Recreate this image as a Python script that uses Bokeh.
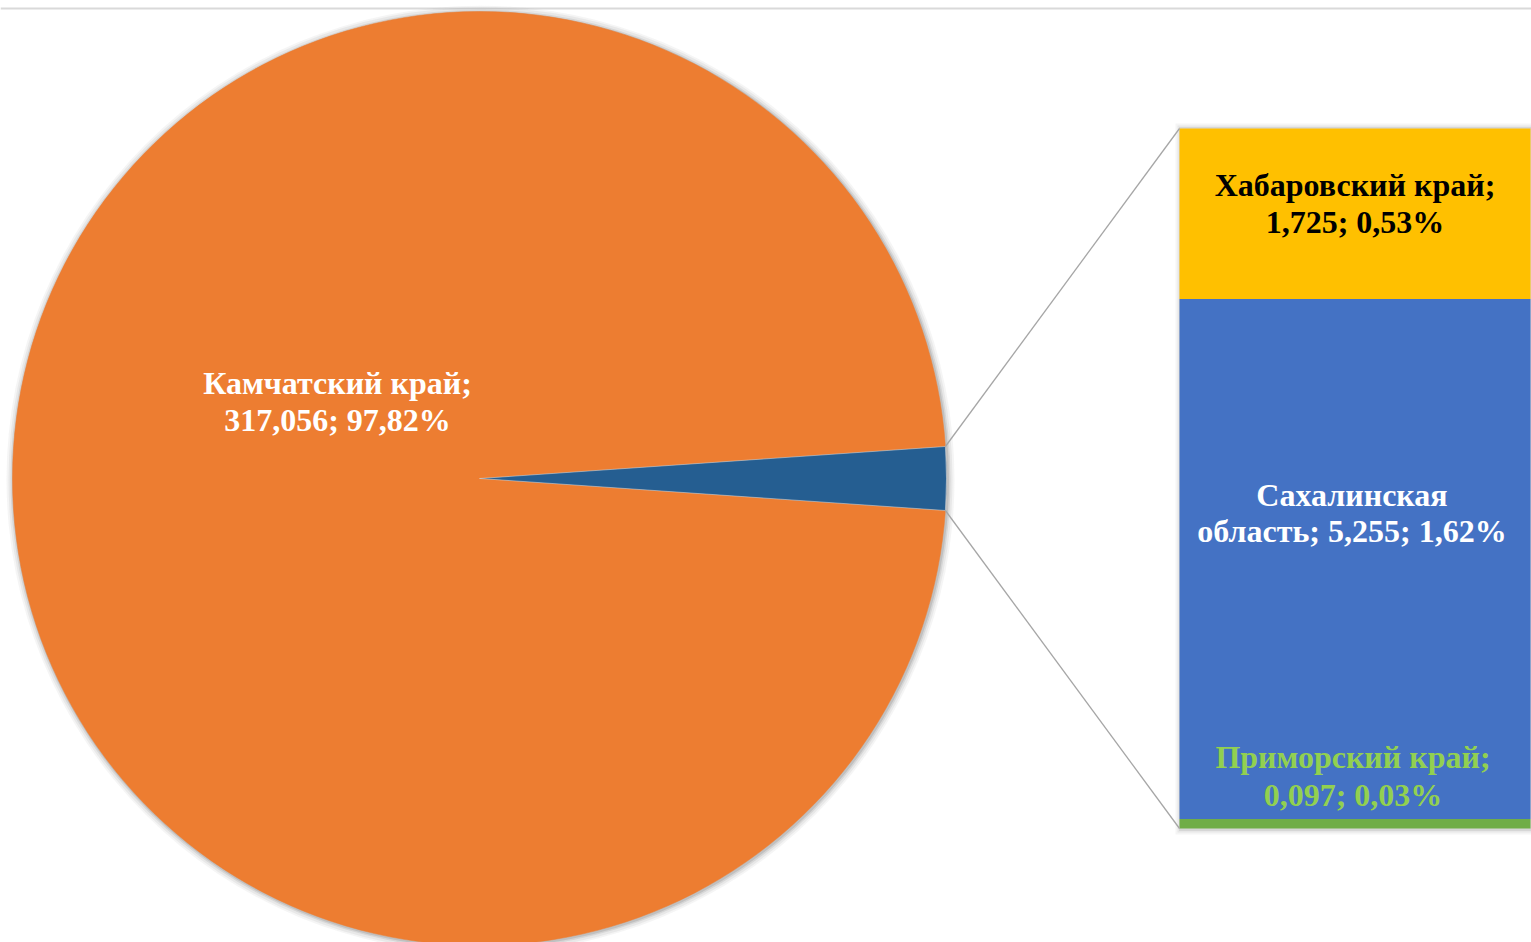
import math
from bokeh.plotting import figure
from bokeh.models import Range1d
from bokeh.core.properties import value
from bokeh.embed import file_html
from bokeh.resources import INLINE

# ---- data ----
pie_labels = ["Камчатский край", "Прочие"]
pie_values = [317.056, 7.077]
bar_labels = ["Приморский край", "Сахалинская область", "Хабаровский край"]
bar_values = [0.097, 5.255, 1.725]
bar_pct = ["0,03%", "1,62%", "0,53%"]
kam_pct = "97,82%"

W, H = 1531, 942
p = figure(width=W, height=H, output_backend="svg", toolbar_location=None,
           x_range=Range1d(0, W), y_range=Range1d(0, H), min_border=0)
p.axis.visible = False
p.grid.visible = False
p.outline_line_color = None
p.background_fill_color = "white"

def Y(py):
    return H - py

font = value("Liberation Serif")

# top border line
p.line([0, W], [Y(8), Y(8)], line_color="#d9d9d9", line_width=2)

# ---- pie ----
cx, cy, R = 479, Y(478), 467
total = sum(pie_values)
other_ang = pie_values[1] / total * 2 * math.pi
a0, a1 = -other_ang / 2, other_ang / 2

# soft shadow
for dr, al in [(7, 0.10), (5, 0.15), (3, 0.25), (1.5, 0.4)]:
    p.circle(x=[cx + 1], y=[cy - 1], radius=R + dr, radius_units="data",
             fill_color="#a0a0a0", fill_alpha=al, line_color=None)

p.wedge(x=[cx], y=[cy], radius=R, start_angle=a1, end_angle=a0 + 2 * math.pi,
        fill_color="#ED7D31", line_color="#ED7D31", line_width=0.5)
p.wedge(x=[cx], y=[cy], radius=R, start_angle=a0, end_angle=a1,
        fill_color="#255E91", line_color="#dddddd", line_width=0.5)

# ---- bar of pie ----
bx0, bx1 = 1179, 1530
btop, bbot = Y(128), Y(828)
scale = (btop - bbot) / sum(bar_values)
bottoms, tops = [], []
acc = bbot
for v in bar_values:
    bottoms.append(acc)
    acc += v * scale
    tops.append(acc)
bar_colors = ["#70AD47", "#4472C4", "#FFC000"]

for dr, al in [(5, 0.10), (3, 0.15), (1.5, 0.25)]:
    p.quad(left=[bx0 - dr + 1], right=[bx1 + dr], bottom=[bbot - dr - 1], top=[btop + dr],
           fill_color="#a0a0a0", fill_alpha=al, line_color=None)
p.quad(left=[bx0] * 3, right=[bx1] * 3, bottom=bottoms, top=tops,
       fill_color=bar_colors, line_color=None)

# connector lines
ex_t, ey_t = cx + R * math.cos(a1), cy + R * math.sin(a1)
ex_b, ey_b = cx + R * math.cos(a0), cy + R * math.sin(a0)
p.line([ex_t, bx0], [ey_t, btop], line_color="#a6a6a6", line_width=1.3)
p.line([ex_b, bx0], [ey_b, bbot], line_color="#a6a6a6", line_width=1.3)

# ---- labels ----
def fmt(v):
    return f"{v:.3f}".replace(".", ",")

def lab(x, ys, lines, color):
    p.text(x=[x] * len(lines), y=[Y(v - 11) for v in ys], text=lines, text_font=font,
           text_font_style="bold", text_font_size="32px", text_color=color,
           text_align="center", text_baseline="alphabetic")

bxc = (bx0 + bx1) / 2
lab(337, [393, 430], [pie_labels[0] + ";", f"{fmt(pie_values[0])}; {kam_pct}"], "white")
lab(bxc, [195, 232], [bar_labels[2] + ";", f"{fmt(bar_values[2])}; {bar_pct[2]}"], "black")
lab(bxc - 3, [505, 541], ["Сахалинская", f"область; {fmt(bar_values[1])}; {bar_pct[1]}"], "white")
lab(bxc - 2, [767, 805], [bar_labels[0] + ";", f"{fmt(bar_values[0])}; {bar_pct[0]}"], "#92D050")

open("out.html", "w").write(file_html(p, INLINE))
